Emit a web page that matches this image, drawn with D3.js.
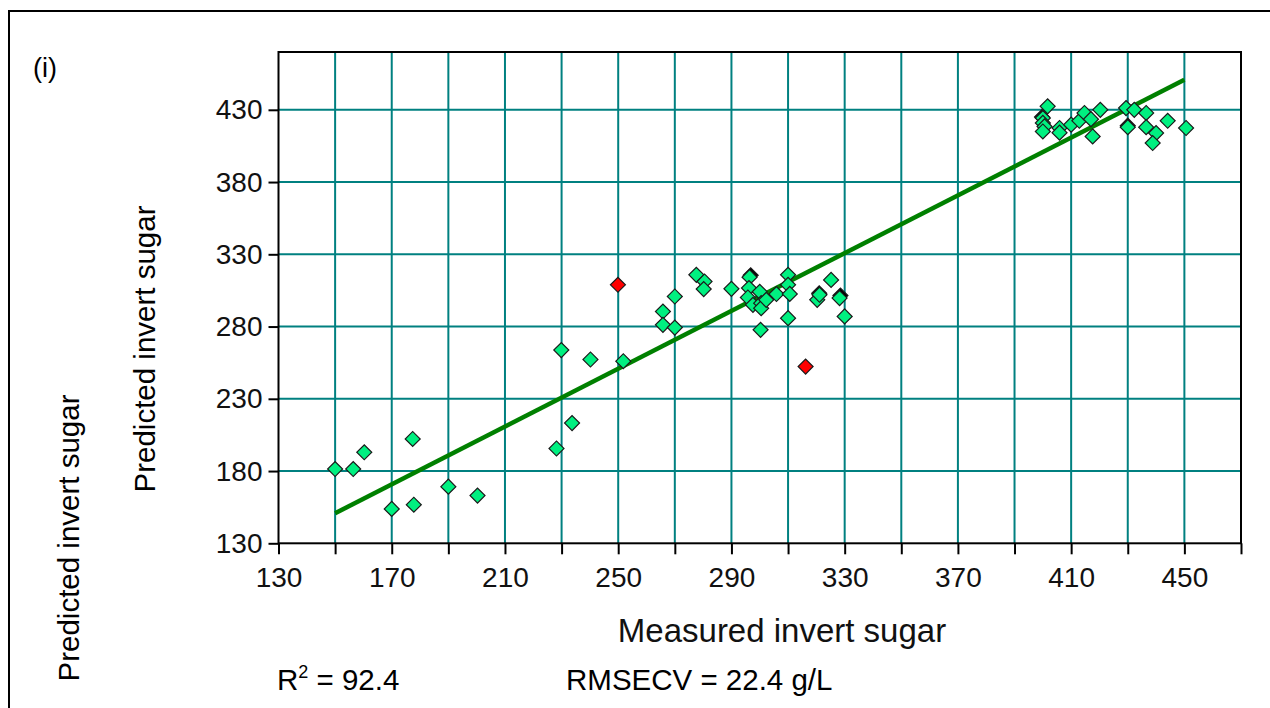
<!DOCTYPE html>
<html><head><meta charset="utf-8">
<script src="https://cdn.jsdelivr.net/npm/d3@7"></script>
<style>
html,body{margin:0;padding:0;background:#fff;}
svg{display:block;}
text{font-family:"Liberation Sans",Arial,sans-serif;}
</style></head>
<body>
<svg id="chart" width="1270" height="708"></svg>
<script>
// ---- data ----
const xTickValues = [130,150,170,190,210,230,250,270,290,310,330,350,370,390,410,430,450,470];
const xTickLabels = [130,170,210,250,290,330,370,410,450];
const yTickValues = [130,180,230,280,330,380,430];
const yTickLabels = [130,180,230,280,330,380,430];

const greenX = [150,156.4,160.3,177.4,170,177.8,190,200.3,
  228.2,229.9,233.7,240.2,251.8,265.8,265.8,270,270,277.6,280.5,280.2,290,296.4,296.2,295.8,297.6,300,300.5,300.5,302.3,300.3,305.9,310,310,310.6,310,320.3,321.1,325.2,328.2,330,
  401.7,400,400,400.6,400,405.9,405.9,410,412.9,414.7,417,420.3,417.6,429.4,432.3,436.5,430,436.5,440,438.8,444.1,450.6];
const greenY = [181.4,181.4,193,202.2,153.8,156.7,169.2,163,
  195.6,263.7,213.2,257.2,256,290.4,281.2,279.3,300.8,315.8,311.2,305.9,306.1,314.2,306.6,300.1,295,304,296.2,292.7,298.5,277.7,302.5,315.8,308.9,302.6,285.8,298.5,302,312.3,299.7,287,
  432.4,424.3,420.9,418.5,415,417.4,414.2,419.7,422.4,427.8,423.5,430,411.6,431.2,430,427.8,418,418,413.9,407,422.4,417.4];
const redX = [249.9,316.2];
const redY = [308.9,252.3];
const darkX = [296.8,328.5,399.7,430,321];
const darkY = [315.5,301.5,425,419,303];
const fitX = [150,450];
const fitY = [150.8,450.8];

// ---- drawing ----
const svg = d3.select("#chart");
const L=278.5, R=1241, T=52, B=543.3;
const x = d3.scaleLinear().domain([130,470]).range([L,R]);
const y = d3.scaleLinear().domain([130,470]).range([B,T]);

// outer frame
svg.append("rect").attr("x",9).attr("y",11).attr("width",1275).attr("height",720)
  .attr("fill","none").attr("stroke","#000").attr("stroke-width",2);

// grid
const grid = svg.append("g");
grid.selectAll("line.v").data(xTickValues.filter(v=>v>130&&v<470)).join("line")
  .attr("x1",d=>x(d)).attr("x2",d=>x(d)).attr("y1",T).attr("y2",B)
  .attr("stroke","#008080").attr("stroke-width",2);
grid.selectAll("line.h").data(yTickValues.filter(v=>v>130)).join("line")
  .attr("x1",L).attr("x2",R).attr("y1",d=>y(d)).attr("y2",d=>y(d))
  .attr("stroke","#008080").attr("stroke-width",2);

// axes
const xAxis = d3.axisBottom(x).tickValues(xTickValues)
  .tickFormat(d=> xTickLabels.includes(d) ? String(d) : "")
  .tickSize(11).tickSizeOuter(0).tickPadding(13);
const gx = svg.append("g").attr("transform",`translate(0,${B})`).call(xAxis);
const yAxis = d3.axisLeft(y).tickValues(yTickValues)
  .tickFormat(d=> yTickLabels.includes(d) ? String(d) : "")
  .tickSize(10).tickSizeOuter(0).tickPadding(6);
const gy = svg.append("g").attr("transform",`translate(${L},0)`).call(yAxis);
[gx,gy].forEach(g=>{
  g.select(".domain").remove();
  g.selectAll(".tick line").attr("stroke","#000").attr("stroke-width",2);
  g.selectAll(".tick text").attr("fill","#111").style("font-size","28px")
   .style("font-family","'Liberation Sans',Arial,sans-serif");
});

// plot frame
svg.append("rect").attr("x",L).attr("y",T).attr("width",R-L).attr("height",B-T)
  .attr("fill","none").attr("stroke","#000").attr("stroke-width",2);

// fit line
svg.append("line").attr("x1",x(fitX[0])).attr("y1",y(fitY[0]))
  .attr("x2",x(fitX[1])).attr("y2",y(fitY[1]))
  .attr("stroke","#008000").attr("stroke-width",4.5);

// markers
const sym = d3.symbol(d3.symbolSquare, 112);
function drawPts(xs, ys, fill){
  svg.append("g").selectAll("path").data(xs.map((v,i)=>[v,ys[i]])).join("path")
    .attr("d",sym)
    .attr("transform",d=>`translate(${x(d[0])},${y(d[1])}) rotate(45)`)
    .attr("fill",fill).attr("stroke","#1a1a1a").attr("stroke-width",1.2);
}
drawPts(darkX, darkY, "#000");
drawPts(greenX, greenY, "#00f080");
drawPts(redX, redY, "#ff0000");

// texts
svg.append("text").attr("x",33).attr("y",77).style("font-size","27px").text("(i)");
svg.append("text").attr("x",782).attr("y",642).attr("text-anchor","middle")
  .style("font-size","33px").attr("fill","#111").text("Measured invert sugar");
svg.append("text").attr("transform","translate(155,349) rotate(-90)").attr("text-anchor","middle")
  .style("font-size","29.5px").text("Predicted invert sugar");
svg.append("text").attr("transform","translate(79,538) rotate(-90)").attr("text-anchor","middle")
  .style("font-size","29.5px").text("Predicted invert sugar");
const r2 = svg.append("text").attr("x",277).attr("y",690).style("font-size","29.5px");
r2.append("tspan").text("R");
r2.append("tspan").attr("dy",-12).style("font-size","18px").text("2");
r2.append("tspan").attr("dy",12).text(" = 92.4");
svg.append("text").attr("x",566).attr("y",690).style("font-size","29.5px").text("RMSECV = 22.4 g/L");
</script>
</body></html>
